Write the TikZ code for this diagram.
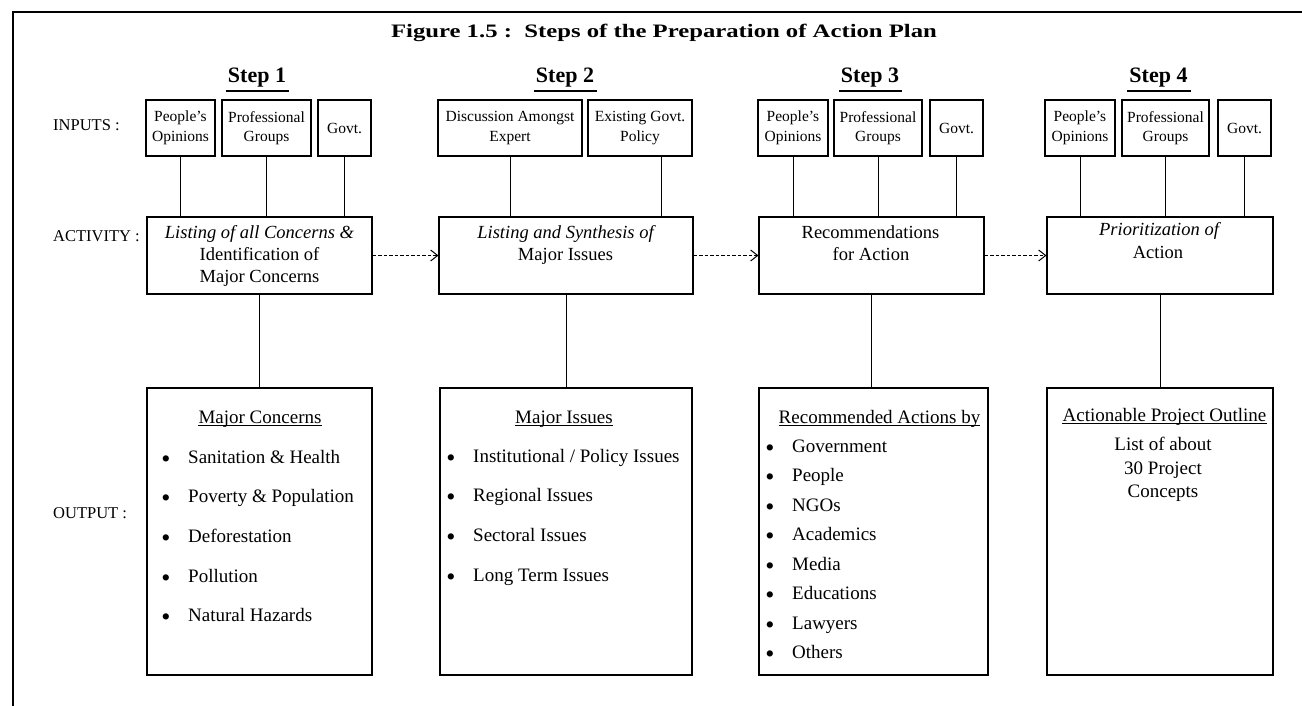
\documentclass[tikz,border=0pt]{standalone}
\usepackage{fontspec}
\setmainfont{Liberation Serif}
\newfontfamily\titlefont{Liberation Serif}[FakeStretch=1.3]
\usetikzlibrary{arrows.meta}

\begin{document}
\begin{tikzpicture}[x=1pt,y=-1pt,
  frame/.style={line width=1.3pt},
  inbox/.style={draw, line width=1.1pt, minimum width=#1, minimum height=56pt,
    inner sep=0pt, align=center, font=\fontsize{15.5}{19.5}\selectfont},
  actbox/.style={draw, line width=1.1pt, minimum width=#1, minimum height=77pt, inner sep=0pt},
  outbox/.style={draw, line width=1.1pt, minimum width=#1, minimum height=287pt, inner sep=0pt},
  acttxt/.style={anchor=base, inner sep=0pt, font=\fontsize{18.5}{22}\selectfont},
  itemtxt/.style={anchor=base west, inner sep=0pt, font=\fontsize{19}{23}\selectfont},
  bul/.style={anchor=base, inner sep=0pt, font=\fontsize{26}{30}\selectfont},
  headtxt/.style={anchor=base, inner sep=0pt, font=\fontsize{19}{23}\selectfont},
  rowlabel/.style={anchor=base west, inner sep=0pt, font=\fontsize{16.5}{20}\selectfont},
  steplabel/.style={anchor=base, inner sep=0pt, font=\bfseries\fontsize{22}{26}\selectfont},
  conn/.style={line width=1pt},
  dasharrow/.style={line width=1pt, dash pattern=on 3.5pt off 2pt,
    -{Straight Barb[length=7pt,width=11pt]}},
  uline/.style={line width=1.1pt},
  stepline/.style={line width=1.8pt}
]
\useasboundingbox (0,0) rectangle (1302,706);
\fill[white] (0,0) rectangle (1302,706);

% outer frame (top and left edges)
\draw[frame] (13,706) -- (13,12) -- (1302,12);

% title
\node[anchor=base, inner sep=0pt] (title) at (664,38)
  {\titlefont\bfseries\fontsize{19}{23}\selectfont Figure 1.5 :\ \ Steps of the Preparation of Action Plan};

% step headings
\node[steplabel] (s1) at (257,83) {Step 1};
\node[steplabel] (s2) at (565,83) {Step 2};
\node[steplabel] (s3) at (870,83) {Step 3};
\node[steplabel] (s4) at (1158.5,83) {Step 4};
\foreach \s in {s1,s2,s3,s4}
  \draw[stepline] ([xshift=-2pt,yshift=-8pt]\s.base west) -- ([xshift=3pt,yshift=-8pt]\s.base east);

% row labels
\node[rowlabel] (linputs) at (53,130.5) {INPUTS :};
\node[rowlabel] (lactivity) at (53,241.5) {ACTIVITY :};
\node[rowlabel] (loutput) at (53,518.5) {OUTPUT :};

% inputs
\node[inbox=69pt] (P1) at (180.5,128) {People's\\Opinions};
\node[inbox=89pt] (G1) at (266.5,128) {Professional\\Groups};
\node[inbox=53pt] (V1) at (344.5,128) {Govt.};

\node[inbox=144pt] (D2) at (510,128) {Discussion Amongst\\Expert};
\node[inbox=104pt] (E2) at (640,128) {Existing Govt.\\Policy};

\node[inbox=70pt] (P3) at (793,128) {People's\\Opinions};
\node[inbox=88pt] (G3) at (878,128) {Professional\\Groups};
\node[inbox=53pt] (V3) at (956.5,128) {Govt.};

\node[inbox=70pt] (P4) at (1080,128) {People's\\Opinions};
\node[inbox=87pt] (G4) at (1165.5,128) {Professional\\Groups};
\node[inbox=53pt] (V4) at (1244.5,128) {Govt.};

% activities
\node[actbox=225pt] (A1) at (259.5,255.5) {};
\node[actbox=254pt] (A2) at (566,255.5) {};
\node[actbox=225pt] (A3) at (871.5,255.5) {};
\node[actbox=226pt] (A4) at (1160,255.5) {};

\node[acttxt] (a1a) at (259.5,238) {\itshape Listing of all Concerns \&};
\node[acttxt] (a1b) at (259.5,260) {Identification of};
\node[acttxt] (a1c) at (259.5,282) {Major Concerns};
\node[acttxt] (a2a) at (565.5,238) {\itshape Listing and Synthesis of};
\node[acttxt] (a2b) at (565.5,260) {Major Issues};
\node[acttxt] (a3a) at (870.5,238) {Recommendations};
\node[acttxt] (a3b) at (871,260) {for Action};
\node[acttxt] (a4a) at (1159,236) {\itshape Prioritization of};
\node[acttxt] (a4b) at (1158,258) {Action};

% outputs
\node[outbox=225pt] (O1) at (259.5,531.5) {};
\node[outbox=252pt] (O2) at (566,531.5) {};
\node[outbox=229pt] (O3) at (873.5,531.5) {};
\node[outbox=226pt] (O4) at (1160,531.5) {};

\node[headtxt] (h1) at (260,423) {Major Concerns};
\node[headtxt] (h2) at (564,423) {Major Issues};
\node[headtxt] (h3) at (879.5,423) {Recommended Actions by};
\node[headtxt] (h4) at (1164.5,421) {Actionable Project Outline};
\foreach \h in {h1,h2,h3,h4}
  \draw[uline] ([yshift=-2.5pt]\h.base west) -- ([yshift=-2.5pt]\h.base east);

\foreach \t [count=\i] in {Sanitation \& Health, Poverty \& Population, Deforestation, Pollution, Natural Hazards} {
  \node[bul] (b1-\i) at (166,{467+39.7*(\i-1)}) {\textbullet};
  \node[itemtxt] (o1-\i) at (188,{463+39.7*(\i-1)}) {\t};
}
\foreach \t [count=\i] in {Institutional / Policy Issues, Regional Issues, Sectoral Issues, Long Term Issues} {
  \node[bul] (b2-\i) at (451,{466+39.7*(\i-1)}) {\textbullet};
  \node[itemtxt] (o2-\i) at (473,{462+39.7*(\i-1)}) {\t};
}
\foreach \t [count=\i] in {Government, People, NGOs, Academics, Media, Educations, Lawyers, Others} {
  \node[bul] (b3-\i) at (770,{456+29.5*(\i-1)}) {\textbullet};
  \node[itemtxt] (o3-\i) at (792,{452+29.5*(\i-1)}) {\t};
}
\node[headtxt] (o4-1) at (1163,450) {List of about};
\node[headtxt] (o4-2) at (1163,474) {30 Project};
\node[headtxt] (o4-3) at (1163,497) {Concepts};

% inputs feeding the activities
\foreach \n/\a in {P1/A1, G1/A1, V1/A1, D2/A2, P3/A3, G3/A3, V3/A3, P4/A4, G4/A4, V4/A4}
  \draw[conn] (\n.south) -- (\n.south |- \a.north);
\coordinate (e2c) at ([xshift=21pt]E2.south);
\draw[conn] (e2c) -- (e2c |- A2.north);

% activities leading to outputs
\foreach \a/\o in {A1/O1, A2/O2, A3/O3, A4/O4}
  \draw[conn] (\a.south) -- (\a.south |- \o.north);

% sequence of steps
\draw[dasharrow] (A1.east) -- (A2.west);
\draw[dasharrow] (A2.east) -- (A3.west);
\draw[dasharrow] (A3.east) -- (A4.west);
\end{tikzpicture}
\end{document}
